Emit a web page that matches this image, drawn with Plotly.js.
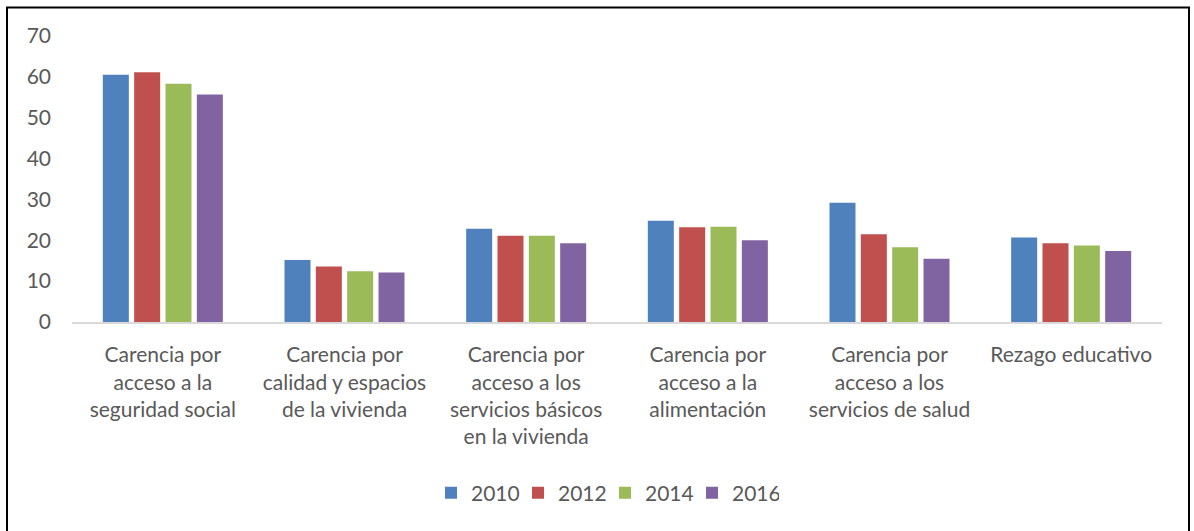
<!DOCTYPE html>
<html>
<head>
<meta charset="utf-8">
<script src="https://cdn.plot.ly/plotly-3.0.1.min.js"></script>
<style>
html,body{margin:0;padding:0;background:#fff;}
#chart{width:1194px;height:531px;}
</style>
</head>
<body>
<div id="chart"></div>
<script>
var categories = [
  "Carencia por<br>acceso a la<br>seguridad social",
  "Carencia por<br>calidad y espacios<br>de la vivienda",
  "Carencia por<br>acceso a los<br>servicios básicos<br>en la vivienda",
  "Carencia por<br>acceso a la<br>alimentación",
  "Carencia por<br>acceso a los<br>servicios de salud",
  "Rezago educativo"
];
var years = ["2010", "2012", "2014", "2016"];
var v2010 = [60.5, 15.2, 22.8, 24.8, 29.2, 20.7];
var v2012 = [61.1, 13.6, 21.1, 23.2, 21.5, 19.3];
var v2014 = [58.3, 12.4, 21.1, 23.3, 18.3, 18.7];
var v2016 = [55.7, 12.1, 19.3, 20.0, 15.5, 17.4];
var colors = ["#4F81BD", "#C0504D", "#9BBB59", "#8064A2"];
var yTicks = [0, 10, 20, 30, 40, 50, 60, 70];

var series = [v2010, v2012, v2014, v2016];
var traces = series.map(function(vals, i){
  return {
    type: "bar",
    name: years[i],
    x: categories,
    y: vals,
    marker: {color: colors[i], line: {width: 0}},
    hoverinfo: "x+y+name"
  };
});

var FONT = "Lato, 'Open Sans', sans-serif";
var layout = {
  width: 1194,
  height: 531,
  margin: {l: 72, r: 32, t: 36, b: 209, pad: 0},
  paper_bgcolor: "#ffffff",
  plot_bgcolor: "#ffffff",
  barmode: "group",
  bargap: 0.31,
  bargroupgap: 0.17,
  font: {family: FONT, size: 21, color: "#595959"},
  showlegend: true,
  legend: {
    orientation: "h",
    x: 0.489, xanchor: "center",
    y: -0.598, yanchor: "middle",
    font: {family: FONT, size: 21, color: "#595959"},
    entrywidth: 42, entrywidthmode: "pixels",
    traceorder: "normal"
  },
  xaxis: {
    type: "category",
    showline: true,
    linecolor: "#d9d9d9",
    linewidth: 2,
    showgrid: false,
    zeroline: false,
    ticks: "",
    ticklabelstandoff: 13,
    tickangle: 0,
    tickfont: {family: FONT, size: 21, color: "#595959"},
    fixedrange: true
  },
  yaxis: {
    range: [0, 70],
    tickvals: yTicks,
    ticktext: yTicks.map(String),
    showgrid: false,
    zeroline: false,
    showline: false,
    ticks: "",
    ticklabelstandoff: 20,
    tickfont: {family: FONT, size: 21, color: "#595959"},
    fixedrange: true
  },
  shapes: [{
    type: "rect",
    xref: "paper", yref: "paper",
    x0: (7 - 72) / 1090, x1: (1189 - 72) / 1090,
    y0: -1.0, y1: (322 - 7.5) / 286,
    line: {color: "#000000", width: 2},
    fillcolor: "rgba(0,0,0,0)",
    layer: "above"
  }]
};

Plotly.newPlot("chart", traces, layout, {displayModeBar: false, staticPlot: true});
</script>
</body>
</html>
